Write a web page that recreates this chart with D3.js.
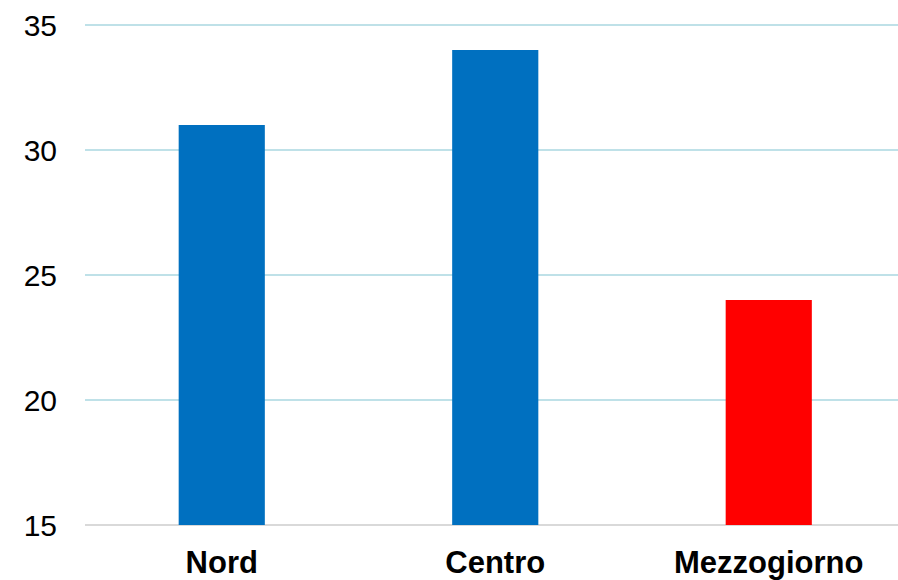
<!DOCTYPE html>
<html lang="it">
<head>
<meta charset="utf-8">
<title>Nord Centro Mezzogiorno</title>
<script src="https://d3js.org/d3.v7.min.js"></script>
<style>
  body { margin: 0; background: #fff; }
  svg text { font-family: "Liberation Sans", Arial, sans-serif; fill: #000; }
</style>
</head>
<body>
<div id="chart"></div>
<script>
// data
var categories = ['Nord', 'Centro', 'Mezzogiorno'];
var values = [31, 34, 24];
var barColors = ['#0070c0', '#0070c0', '#ff0000'];
var yTicks = [15, 20, 25, 30, 35];

var width = 898, height = 580;
var plotLeft = 85, plotRight = 905.5, plotTop = 25, plotBottom = 525;

var svg = d3.select('#chart').append('svg')
  .attr('width', width)
  .attr('height', height);

var x = d3.scaleBand()
  .domain(categories)
  .range([plotLeft, plotRight]);

var y = d3.scaleLinear()
  .domain([15, 35])
  .range([plotBottom, plotTop]);

// gridlines
svg.append('g').selectAll('line')
  .data(yTicks)
  .enter().append('line')
  .attr('x1', plotLeft)
  .attr('x2', width)
  .attr('y1', function(d) { return y(d); })
  .attr('y2', function(d) { return y(d); })
  .attr('stroke', function(d) { return d === 15 ? '#d9d9d9' : '#bfe1e8'; })
  .attr('stroke-width', 2);

// y labels
svg.append('g').selectAll('text')
  .data(yTicks)
  .enter().append('text')
  .attr('x', 57)
  .attr('y', function(d) { return y(d) + 10.5; })
  .attr('text-anchor', 'end')
  .style('font-size', '30px')
  .text(function(d) { return d; });

// bars
var barW = x.bandwidth() * 0.315;
svg.append('g').selectAll('rect')
  .data(values)
  .enter().append('rect')
  .attr('x', function(d, i) { return x(categories[i]) + x.bandwidth() / 2 - barW / 2; })
  .attr('y', function(d) { return y(d); })
  .attr('width', barW)
  .attr('height', function(d) { return y(15) - y(d); })
  .attr('fill', function(d, i) { return barColors[i]; });

// x labels
svg.append('g').selectAll('text')
  .data(categories)
  .enter().append('text')
  .attr('x', function(d) { return x(d) + x.bandwidth() / 2; })
  .attr('y', 573)
  .attr('text-anchor', 'middle')
  .style('font-size', '31px')
  .style('font-weight', 'bold')
  .text(function(d) { return d; });
</script>
</body>
</html>
